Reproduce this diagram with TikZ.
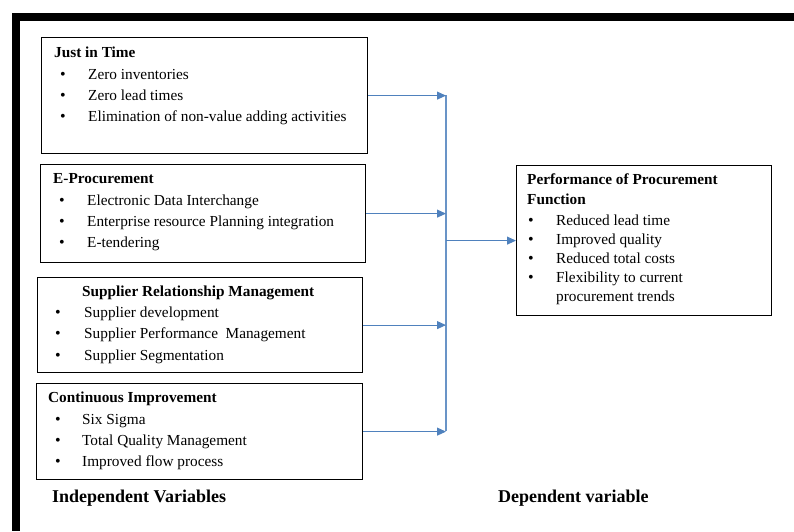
\documentclass[tikz,border=0pt]{standalone}
\usepackage{fontspec}
\setmainfont{Liberation Serif}
\usetikzlibrary{arrows.meta}
\definecolor{linkblue}{RGB}{79,129,189}
\begin{document}
\begin{tikzpicture}[x=1pt,y=-1pt,
  panel/.style={draw=black,line width=1.2pt,inner sep=0pt,anchor=north west},
  txt/.style={anchor=mid west,inner sep=0pt,yshift=-2.5pt,font=\fontsize{15.3}{18}\selectfont},
  head/.style={anchor=mid west,inner sep=0pt,yshift=-2.5pt,font=\fontsize{15.3}{18}\selectfont\bfseries},
  dot/.style={anchor=mid,inner sep=0pt,yshift=-2.5pt,font=\fontsize{16}{18}\selectfont},
  caption/.style={anchor=mid west,inner sep=0pt,yshift=-3pt,font=\fontsize{18}{22}\selectfont\bfseries},
  link/.style={draw=linkblue,line width=1pt,-{Triangle[length=9pt,width=8pt]}},
  bus/.style={draw=linkblue!85,line width=1.3pt}
]
\useasboundingbox (0,0) rectangle (794,531);
% outer frame (top and left bars)
\fill[black] (12,13) rectangle (794,21);
\fill[black] (12,13) rectangle (20,531);

% independent variable panels
\node[panel,minimum width=326pt,minimum height=116pt] (jit) at (41,37) {};
\node[head] (jith) at (54,53) {Just in Time};
\foreach \y/\t [count=\i] in {75/Zero inventories,96/Zero lead times,117/Elimination of non-value adding activities}{
  \node[dot] (jitb\i) at (63,\y) {•};
  \node[txt] (jitt\i) at (88,\y) {\t};
}

\node[panel,minimum width=325pt,minimum height=98pt] (eproc) at (40,164) {};
\node[head] (eproch) at (53,179) {E-Procurement};
\foreach \y/\t [count=\i] in {201/Electronic Data Interchange,222/Enterprise resource Planning integration,243/E-tendering}{
  \node[dot] (eprocb\i) at (62,\y) {•};
  \node[txt] (eproct\i) at (87,\y) {\t};
}

\node[panel,minimum width=325pt,minimum height=95pt] (srm) at (37,277) {};
\node[head] (srmh) at (82,292) {Supplier Relationship Management};
\foreach \y/\t [count=\i] in {313/Supplier development,334/Supplier Performance\ \ Management,356/Supplier Segmentation}{
  \node[dot] (srmb\i) at (58,\y) {•};
  \node[txt] (srmt\i) at (84,\y) {\t};
}

\node[panel,minimum width=326pt,minimum height=96pt] (ci) at (36,383) {};
\node[head] (cih) at (48,398) {Continuous Improvement};
\foreach \y/\t [count=\i] in {420/Six Sigma,441/Total Quality Management,462/Improved flow process}{
  \node[dot] (cib\i) at (58,\y) {•};
  \node[txt] (cit\i) at (82,\y) {\t};
}

% dependent variable panel
\node[panel,minimum width=255pt,minimum height=150pt] (perf) at (516,165) {};
\node[head] (perfh1) at (527,180) {Performance of Procurement};
\node[head] (perfh2) at (527,200) {Function};
\foreach \y/\t [count=\i] in {221/Reduced lead time,240/Improved quality,259/Reduced total costs,278/Flexibility to current}{
  \node[dot] (perfb\i) at (531,\y) {•};
  \node[txt] (perft\i) at (556,\y) {\t};
}
\node[txt] (perft5) at (556,297) {procurement trends};

% captions
\node[caption] (indep) at (52,497) {Independent Variables};
\node[caption] (dep) at (498,497) {Dependent variable};

% connectors
\coordinate (bustop) at (446,95);
\coordinate (busbot) at (446,431);
\draw[bus] (bustop) -- (busbot);
\draw[link] (jit.east) -- (jit.east -| bustop);
\draw[link] (eproc.east) -- (eproc.east -| bustop);
\draw[link] (srm.east) -- (srm.east -| bustop);
\draw[link] (ci.east) -- (ci.east -| bustop);
\draw[link] (bustop |- perf.west) -- (perf.west);
\end{tikzpicture}
\end{document}
